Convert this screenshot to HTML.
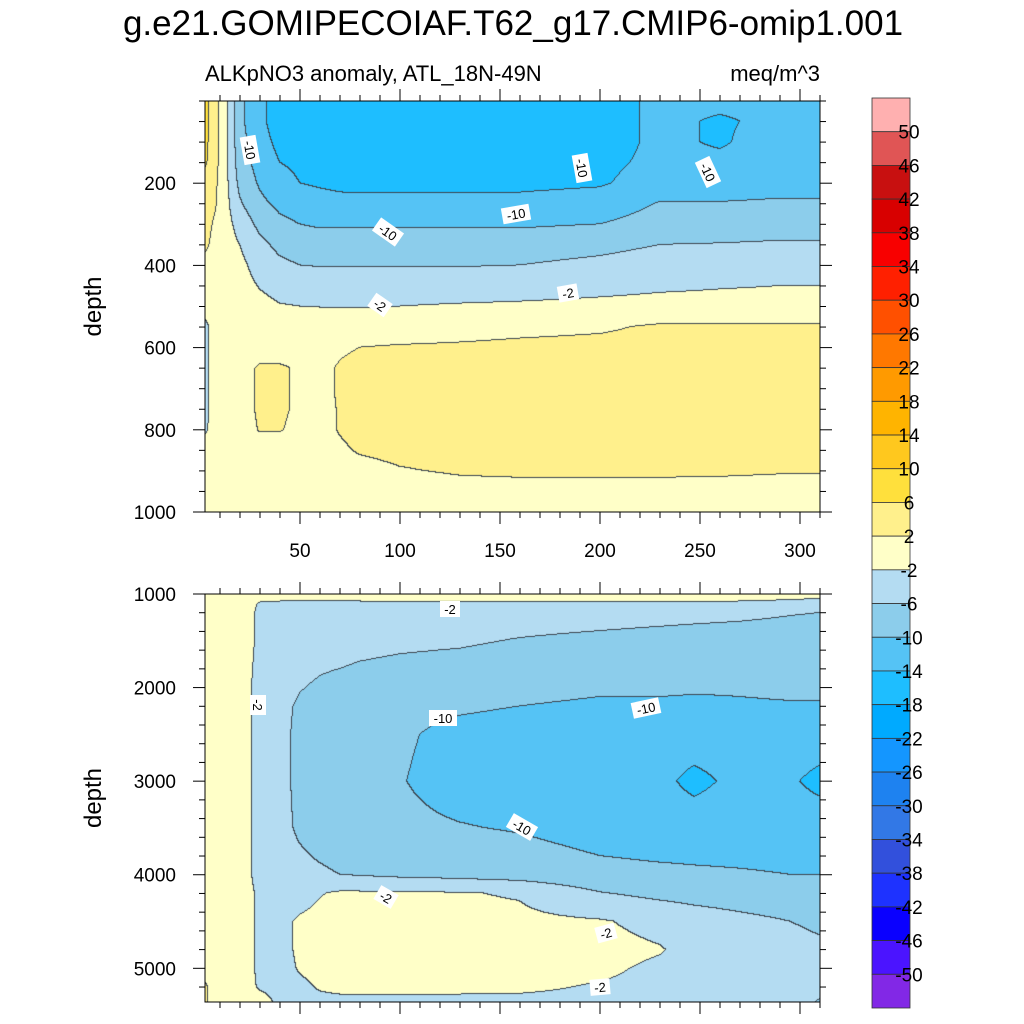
<!DOCTYPE html>
<html><head><meta charset="utf-8">
<style>
html,body{margin:0;padding:0;background:#fff;}
#wrap{position:relative;width:1024px;height:1024px;overflow:hidden;font-family:"Liberation Sans",sans-serif;}
canvas{position:absolute;left:0;top:0;}
svg{position:absolute;left:0;top:0;}
</style></head>
<body>
<div id="wrap">
<canvas id="cv" width="1024" height="1024"></canvas>
<svg id="sv" width="1024" height="1024" xmlns="http://www.w3.org/2000/svg"></svg>
</div>
<script>
// ---- data ----
const levels = [-50,-46,-42,-38,-34,-30,-26,-22,-18,-14,-10,-6,-2,2,6,10,14,18,22,26,30,34,38,42,46,50];
const levelColors = ["#8228e6","#4b14ff","#0a00ff","#1e32ff","#3250dc","#3278e6","#1e82f0","#1496ff","#00aaff","#1ebeff","#55c3f5","#8ccdeb","#b4dcf2","#ffffc8","#fff08c","#ffe03c","#ffc81e","#ffb400","#ff9a00","#ff7800","#ff5000","#ff2000","#f80000","#d80000","#c81010","#e05555","#ffb0b0"];
const topX = [3,8,12,20,30,40,50,60,70,80,100,130,160,200,230,260,290,310];
const topDepth = [0,50,100,150,200,250,300,350,400,450,500,550,600,650,700,750,800,850,900,950,1000];
const topValues = [
[7,3.5,0,-9,-13,-16,-15,-15,-15,-16,-16,-16,-16,-16,-13,-13,-13,-12],
[7,3.5,0,-9,-13,-16,-15,-15,-15,-16,-16,-16,-16,-16,-13,-14.5,-13,-12],
[7,3,0,-8.5,-12.5,-15,-15,-15,-15,-16,-16,-16,-16,-16,-13,-14.5,-12,-12],
[6.5,3,0,-8,-11.5,-14,-14.5,-15,-15,-15,-15,-16,-16,-15,-13,-13,-12,-12],
[4,2.5,0,-7,-10.5,-13,-14,-14.5,-14.8,-15,-15,-15,-15,-14.5,-12,-12,-11.5,-11.5],
[3.5,2.2,0,-5.5,-9,-11,-12,-12.5,-13,-13,-13,-13,-12.8,-12,-9.8,-9.8,-9.5,-9.5],
[3,1.5,0,-3.5,-7,-9,-10,-10.5,-10.5,-10.5,-10.5,-10.5,-10.5,-10,-8.5,-8.5,-8,-8],
[2.5,1,0,-2,-5,-7,-7.8,-8,-8,-8,-8,-8,-8,-7.2,-6,-5.8,-5.5,-5.5],
[1,0.5,0,-1,-3.5,-5.2,-6,-6.2,-6.2,-6.2,-6.2,-6.2,-6,-5,-4,-4,-4,-4],
[0,0,0,-0.5,-2.2,-3.2,-3.6,-3.8,-3.8,-3.8,-3.8,-3.8,-3.6,-3,-2.5,-2.2,-2,-2],
[0,0,0,0,-1,-1.8,-2,-2.1,-2.2,-2.2,-2,-1.7,-1.5,-1.2,-1,-1,-1,-1],
[-3,0,0,0,0,0,0,0,0,0,0,0.5,1,1.5,2.5,2.5,2.5,2.5],
[-3,0,0,0,0,0,0,0.5,1.5,2,2.3,2.5,2.8,3,3,3,3,3],
[-3,0,0,0.5,2.5,2.5,1.5,1.2,2.3,3,3,3,3,3,3,3,3,3],
[-3,0,0,0.5,2.5,2.5,1.5,1.2,2.3,3,3,3,3,3,3,3,3,3],
[-3,0,0,0.5,2.5,2.5,1.5,1,2.2,3,3,3,3,3,3,3,3,3],
[-2.5,0,0,0.3,2.2,2.2,1.2,1,2.2,3,3,3,3,3,3,3,3,3],
[0,0,0,0,0.5,0.5,0.5,0.5,1.5,2.3,2.8,3,3,3,3,3,3,3],
[0,0,0,0,0,0,0,0,0.5,1,1.8,2.3,2.5,2.5,2.5,2.4,2.2,2.2],
[0,0,0,0,0,0,0,0,0,0,0.5,1,1,1,1,1,1,1],
[0.5,0.5,0.5,0.5,0.5,0.5,0.5,0.5,0.5,0.5,0.5,0.5,0.5,0.5,0.5,0.5,0.5,0.5]
];
const botX = [3,8,12,20,30,40,50,60,70,80,100,130,160,200,230,247,270,295,310];
const botDepth = [1000,1100,1200,1500,2000,2200,2500,3000,3500,4000,4200,4500,4800,5000,5200,5360];
const botValues = [
[0,0,0,0,0,0,0,0,0,0,0,0,0,0,0,0,0,-0.5,-1],
[0,0,0,-0.5,-2.2,-2.5,-2.5,-2.5,-2.5,-2.5,-2.3,-2.3,-2.3,-2.3,-2.3,-2.4,-2.5,-2.8,-3],
[0,0,0,-0.5,-2.5,-3,-3.5,-3.5,-3.5,-3.5,-3.8,-4,-4.2,-4.5,-4.8,-5,-5.3,-5.8,-6],
[0,0,0,-0.5,-2.5,-3.5,-4,-4.5,-4.5,-4.8,-5.2,-5.5,-6.2,-6.8,-7.2,-7.4,-7.5,-7.5,-7.5],
[0,0,0,-0.5,-3,-4.5,-5.8,-6.5,-7,-7.5,-8,-8.5,-9,-9.5,-9.5,-9.7,-9.7,-9.5,-9.5],
[0,0,0,-0.5,-3,-5,-6.5,-7.5,-8,-8.5,-9,-9.5,-10,-10.5,-10.5,-10.5,-10.3,-10.2,-10.2],
[0,0,0,-0.5,-3,-5,-6.8,-8,-8.5,-9,-9.5,-11,-11.5,-12,-12,-12,-12,-12,-12],
[0,0,0,-0.5,-3,-5,-6.8,-8,-8.5,-9,-9.8,-11.5,-12,-12.5,-13,-15,-13,-13.5,-15],
[0,0,0,-0.5,-3,-5,-6.5,-7.5,-8,-8.5,-9.2,-9.8,-10.3,-11.5,-12,-12,-12,-12,-12],
[0,0,0,-0.5,-3,-4.5,-5,-5.5,-6,-6.3,-6.8,-7.2,-7.8,-9,-9.3,-9.5,-9.7,-10,-10],
[0,0,0,-0.5,-2.5,-3.5,-3.5,-2.2,-1.5,-1.5,-1.5,-1.8,-2.3,-5.8,-7,-7.5,-8,-8.5,-9],
[0,0,0,-0.5,-2.5,-3,-1.5,-1,-1,-1,-1,-1,-1.2,-1.7,-3,-4,-5,-6,-6.5],
[0,0,0,-0.5,-2.5,-3,-1.5,-1,-0.5,-0.5,-0.5,-0.5,-0.5,-1,-1.8,-3,-4,-5,-5.5],
[0,0,0,-0.5,-2.5,-3,-1.8,-1.2,-1,-1,-1,-1,-1,-1.5,-2.5,-3,-3.5,-4,-4.5],
[2.5,0,0,-0.5,-2.3,-2.8,-2.5,-1.8,-1.5,-1.5,-1.5,-1.5,-1.6,-2.2,-2.6,-2.8,-3,-3.5,-4],
[2.5,0,0,0,-1,-2.5,-2.5,-2.5,-2.5,-2.5,-2.5,-2.5,-2.5,-2.5,-2.6,-2.8,-3,-3.5,-6.5]
];
const xTicks = [50,100,150,200,250,300];
const topYTicks = [200,400,600,800,1000];
const botYTicks = [1000,2000,3000,4000,5000];
const cbLabels = ["50","46","42","38","34","30","26","22","18","14","10","6","2","-2","-6","-10","-14","-18","-22","-26","-30","-34","-38","-42","-46","-50"];
const topContourLabels = [["-10",250,150,80],["-10",388,232,35],["-10",582,168,80],["-10",708,172,65],["-10",516,214,-10],["-2",380,305,35],["-2",568,293,-10]];
const botContourLabels = [["-2",450,609,0],["-2",258,705,90],["-10",443,718,0],["-10",646,708,-12],["-10",522,827,30],["-2",386,897,30],["-2",606,933,-15],["-2",600,987,-5]];

// ---- geometry ----
const X0=205,X1=820;
const P = {
  top:{y0:101,y1:512,d0:0,d1:1000},
  bot:{y0:594,y1:1002,d0:1000,d1:5360}
};
function xPix(x){return 200+2*x;}
function xData(px){return (px-200)/2;}
function yPix(p,d){return p.y0+(d-p.d0)*(p.y1-p.y0)/(p.d1-p.d0);}
function yData(p,py){return p.d0+(py-p.y0)*(p.d1-p.d0)/(p.y1-p.y0);}
function idx(arr,v){if(v<=arr[0])return [0,0];if(v>=arr[arr.length-1])return [arr.length-2,1];
  for(let i=0;i<arr.length-1;i++){if(v<=arr[i+1])return [i,(v-arr[i])/(arr[i+1]-arr[i])];}}
function interp(xs,ds,vals,x,d){
  const [i,tx]=idx(xs,x),[j,ty]=idx(ds,d);
  const a=vals[j][i],b=vals[j][i+1],c=vals[j+1][i],e=vals[j+1][i+1];
  return (a*(1-tx)+b*tx)*(1-ty)+(c*(1-tx)+e*tx)*ty;
}
function bin(v){let k=0;while(k<levels.length&&v>=levels[k])k++;return k;}
function hex(c){return [parseInt(c.substr(1,2),16),parseInt(c.substr(3,2),16),parseInt(c.substr(5,2),16)];}
const rgb=levelColors.map(hex);

const cv=document.getElementById('cv'),ctx=cv.getContext('2d');
function drawPanel(p,xs,ds,vals){
  const w=X1-X0,h=p.y1-p.y0;
  const B=[];
  for(let r=0;r<h;r++){const row=[];const d=yData(p,p.y0+r+0.5);
    for(let c=0;c<w;c++){row.push(bin(interp(xs,ds,vals,xData(X0+c+0.5),d)));}B.push(row);}
  const img=ctx.createImageData(w,h);
  for(let r=0;r<h;r++)for(let c=0;c<w;c++){
    const k=B[r][c];let col=rgb[k];
    const edge=(c<w-1&&B[r][c+1]!==k)||(r<h-1&&B[r+1][c]!==k);
    const o=(r*w+c)*4;
    if(edge){img.data[o]=60;img.data[o+1]=70;img.data[o+2]=80;}
    else{img.data[o]=col[0];img.data[o+1]=col[1];img.data[o+2]=col[2];}
    img.data[o+3]=255;}
  ctx.putImageData(img,X0,p.y0);
}
drawPanel(P.top,topX,topDepth,topValues);
drawPanel(P.bot,botX,botDepth,botValues);

// ---- svg overlay ----
const NS="http://www.w3.org/2000/svg",sv=document.getElementById('sv');
function mk(tag,attrs,parent){const e=document.createElementNS(NS,tag);for(const k in attrs)e.setAttribute(k,attrs[k]);(parent||sv).appendChild(e);return e;}
function txt(s,x,y,size,anchor,parent){const t=mk('text',{x:x,y:y,'font-size':size,'text-anchor':anchor||'start','font-family':'Liberation Sans, sans-serif',fill:'#000'},parent);t.textContent=s;return t;}

let t=txt("g.e21.GOMIPECOIAF.T62_g17.CMIP6-omip1.001",513,35,35,'middle');


t=txt("ALKpNO3 anomaly, ATL_18N-49N",205,81,22,'start');


t=txt("meq/m^3",820,81,22,'end');



function axes(p,yTicks,minorStep,showX,name){
  const g=mk('g',{});
  
  
  mk('rect',{x:X0,y:p.y0,width:X1-X0,height:p.y1-p.y0,fill:'none',stroke:'#000','stroke-width':1},g);
  for(let d=Math.ceil(p.d0/minorStep)*minorStep;d<=p.d1;d+=minorStep){
    const y=yPix(p,d);const major=yTicks.indexOf(d)>=0;const L=major?12:6;
    mk('line',{x1:X0,y1:y,x2:X0-L,y2:y,stroke:'#000','stroke-width':1},g);
    mk('line',{x1:X1,y1:y,x2:X1+L,y2:y,stroke:'#000','stroke-width':1},g);
  }
  yTicks.forEach(d=>{const e=txt(String(d),176,yPix(p,d)+7,19,'end',g);
    
    });
  for(let x=10;x<=310;x+=10){const px=xPix(x);const major=x%50===0;const L=major?12:6;
    mk('line',{x1:px,y1:p.y0,x2:px,y2:p.y0-L,stroke:'#000'},g);
    mk('line',{x1:px,y1:p.y1,x2:px,y2:p.y1+L,stroke:'#000'},g);}
  if(showX) xTicks.forEach(x=>{const e=txt(String(x),xPix(x),557,19,'middle',g);
    
    });
  const yt=txt("depth",0,0,24,'middle',g);
  yt.setAttribute('transform','translate(101,'+((p.y0+p.y1)/2)+') rotate(-90)');
  
  
}
axes(P.top,topYTicks,50,true,'top-panel');
axes(P.bot,botYTicks,200,false,'bottom-panel');

function clabels(list,name){
  list.forEach(l=>{const g=mk('g',{transform:'translate('+l[1]+','+l[2]+') rotate('+l[3]+')'});
    
    
    const w=l[0].length*8+4;
    mk('rect',{x:-w/2,y:-8,width:w,height:16,fill:'#fff'},g);
    txt(l[0],0,5,13,'middle',g);});
}
clabels(topContourLabels,'contour-label');
clabels(botContourLabels,'contour-label');

// colorbar
const cb=mk('g',{});


const cbTop=98,cbBot=1008,n=levelColors.length,bh=(cbBot-cbTop)/n;
for(let i=0;i<n;i++){const k=n-1-i;
  const r=mk('rect',{x:872,y:cbTop+i*bh,width:38,height:bh,fill:levelColors[k],stroke:'#333','stroke-width':0.8},cb);
  
  }
cbLabels.forEach((s,i)=>{const e=txt(s,909,cbTop+(i+1)*bh+7,19,'middle',cb);
  
  });
</script>
</body></html>
